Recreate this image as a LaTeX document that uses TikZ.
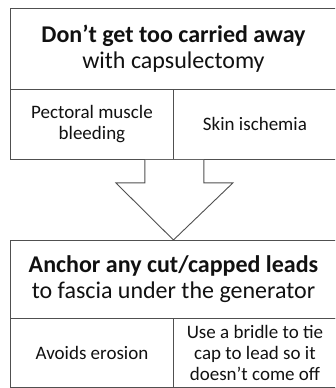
\documentclass[tikz,border=0pt]{standalone}
\usepackage{fontspec}
\setmainfont{Carlito}
\usetikzlibrary{calc}
\definecolor{linegray}{HTML}{505050}
\definecolor{txt}{HTML}{111111}
\tikzset{
  cellbox/.style={draw=linegray, line width=0.9pt, anchor=north west, inner sep=0pt, align=center, text=txt},
  bigtext/.style={font=\fontsize{24}{26}\selectfont},
  smalltext/.style={font=\fontsize{19}{21}\selectfont},
  blockarrow/.style={draw=linegray, line width=0.9pt, fill=white, line join=miter}
}
\begin{document}
\begin{tikzpicture}[x=1pt,y=-1pt]
\clip (0,0) rectangle (335,388);
\fill[white] (0,0) rectangle (335,388);
% top group
\node[cellbox, bigtext, minimum width=326pt, minimum height=81pt] (t1) at (10,8)
  {\textbf{Don’t get too carried away}\\with capsulectomy};
\node[cellbox, smalltext, minimum width=163pt, minimum height=70pt] (t2) at (10,89)
  {Pectoral muscle\\bleeding};
\node[cellbox, smalltext, minimum width=163pt, minimum height=70pt] (t3) at (173,89)
  {Skin ischemia};
% bottom group
\node[cellbox, bigtext, minimum width=326pt, minimum height=78pt] (b1) at (10,240)
  {\textbf{Anchor any cut/capped leads}\\to fascia under the generator};
\node[cellbox, smalltext, minimum width=163pt, minimum height=69pt] (b2) at (10,318)
  {Avoids erosion};
\node[cellbox, smalltext, minimum width=163pt, minimum height=69pt] (b3) at (173,318)
  {Use a bridle to tie\\cap to lead so it\\doesn’t come off};
% block arrow from top group to bottom group
\coordinate (tip) at (b1.north);
\coordinate (base) at (t2.south east);
\draw[blockarrow]
  ($(base)+(-29,0)$) -- ($(base)+(-29,23)$) -- ($(base)+(-58,23)$)
  -- (tip) -- ($(base)+(59,23)$) -- ($(base)+(30,23)$) -- ($(base)+(30,0)$);
\end{tikzpicture}
\end{document}
